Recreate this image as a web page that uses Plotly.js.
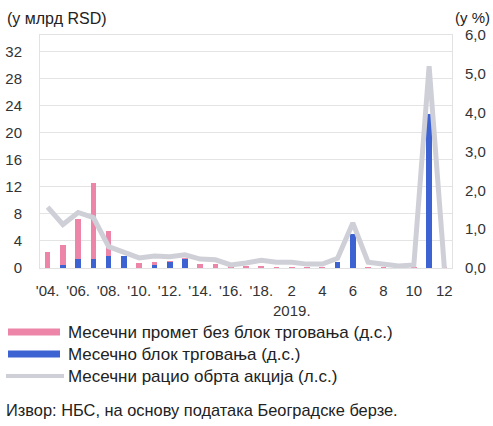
<!DOCTYPE html>
<html>
<head>
<meta charset="utf-8">
<script src="https://cdn.plot.ly/plotly-3.0.1.min.js"></script>
<style>
html,body{margin:0;padding:0;background:#fff;}
#chart{width:493px;height:426px;}
</style>
</head>
<body>
<div id="chart"></div>
<script>
// Categories: years 2004-2018, then months of 2019
const categories = ["'04.","'05.","'06.","'07.","'08.","'09.","'10.","'11.","'12.","'13.","'14.","'15.","'16.","'17.","'18.",
  "1","2","3","4","5","6","7","8","9","10","11","12"];
// Monthly turnover without block trading (bn RSD)
const turnoverNoBlock = [2.3,3.0,5.9,11.1,3.7,0.1,0.8,0.5,0.1,0.2,0.6,0.6,0.3,0.3,0.3,
  0.2,0.2,0.2,0.2,0,0,0.2,0.2,0.2,0.2,0,0.1];
// Monthly block trading (bn RSD)
const blockTrading = [0,0.4,1.3,1.4,1.7,1.7,0,0.4,0.9,1.3,0,0,0,0,0,
  0,0,0,0,0.9,5.0,0,0,0,0,22.8,0];
// Monthly share turnover ratio (%)
const turnoverRatio = [1.57,1.12,1.43,1.3,0.55,0.42,0.26,0.31,0.29,0.34,0.23,0.21,0.08,0.13,0.2,
  0.15,0.15,0.1,0.1,0.25,1.16,0.15,0.1,0.05,0.08,5.2,0.0];
// Tick labels shown on the x axis
const xTickCats = ["'04.","'06.","'08.","'10.","'12.","'14.","'16.","'18.","2","4","6","8","10","12"];
const xTickText = ["'04.","'06.","'08.","'10.","'12.","'14.","'16.","'18.","2<br>2019.","4","6","8","10","12"];
const leftTicks = [0,4,8,12,16,20,24,28,32];
const rightTicks = [0,1,2,3,4,5,6];
const names = ["Месечни промет без блок трговања (д.с.)","Месечно блок трговања (д.с.)","Месечни рацио обрта акција (л.с.)"];

const W=493,H=426, L=40, R=41, T=35, B=158;
const pw=W-L-R, ph=H-T-B;
const px=x=>(x-L)/pw, py=y=>(H-B-y)/ph;
const FONT='"Liberation Sans", Arial, sans-serif';
const PINK='#ec85a8', BLUE='#3d62d2', GRAY='#cfcfd8';

const traces=[
  {type:'bar',x:categories,y:blockTrading,name:names[1],marker:{color:BLUE},showlegend:false,hoverinfo:'skip'},
  {type:'bar',x:categories,y:turnoverNoBlock,name:names[0],marker:{color:PINK},showlegend:false,hoverinfo:'skip'},
  {type:'scatter',mode:'lines',x:categories,y:turnoverRatio,yaxis:'y2',name:names[2],
   line:{color:GRAY,width:5},showlegend:false,hoverinfo:'skip'}
];

const ann=(text,x,y,xa,size)=>({text:text,xref:'paper',yref:'paper',x:px(x),y:py(y),xanchor:xa,yanchor:'middle',
  showarrow:false,font:{family:FONT,size:size||16,color:'#222'}});

const layout={
  width:W,height:H,margin:{l:L,r:R,t:T,b:B},
  paper_bgcolor:'#fff',plot_bgcolor:'#fff',
  barmode:'stack',bargap:0.63,showlegend:false,separators:', ',
  font:{family:FONT,size:15,color:'#333'},
  xaxis:{type:'category',categoryorder:'array',categoryarray:categories,
    tickmode:'array',tickvals:xTickCats,ticktext:xTickText,ticks:'',tickangle:0,
    showgrid:false,showline:true,linecolor:'#e2e2e2',mirror:true,zeroline:false,
    tickfont:{family:FONT,size:15,color:'#333'},ticklabelstandoff:9},
  yaxis:{range:[0,34.4],tickmode:'array',tickvals:leftTicks,ticks:'',
    showgrid:true,gridcolor:'#e4e4e4',showline:true,linecolor:'#e2e2e2',mirror:true,zeroline:false,
    tickfont:{family:FONT,size:15,color:'#333'},ticklabelstandoff:14},
  yaxis2:{overlaying:'y',side:'right',range:[0,6],tickmode:'array',tickvals:rightTicks,tickformat:'.1f',ticks:'',
    showgrid:false,zeroline:false,showline:false,
    tickfont:{family:FONT,size:15,color:'#333'},ticklabelstandoff:12},
  annotations:[
    ann('(у млрд RSD)',5,19,'left',16),
    ann('(у %)',472,17,'center',15),
    ann(names[0],66,332,'left',17),
    ann(names[1],66,354,'left',17),
    ann(names[2],66,376,'left',17),
    ann('Извор: НБС, на основу података Београдске берзе.',4,410,'left',16.4)
  ],
  shapes:[
    {type:'line',xref:'paper',yref:'paper',x0:px(8),x1:px(60),y0:py(332),y1:py(332),line:{color:PINK,width:7}},
    {type:'line',xref:'paper',yref:'paper',x0:px(8),x1:px(60),y0:py(354),y1:py(354),line:{color:BLUE,width:7}},
    {type:'line',xref:'paper',yref:'paper',x0:px(6),x1:px(64),y0:py(376),y1:py(376),line:{color:GRAY,width:4}}
  ]
};
Plotly.newPlot('chart',traces,layout,{staticPlot:true,displayModeBar:false});
</script>
</body>
</html>
